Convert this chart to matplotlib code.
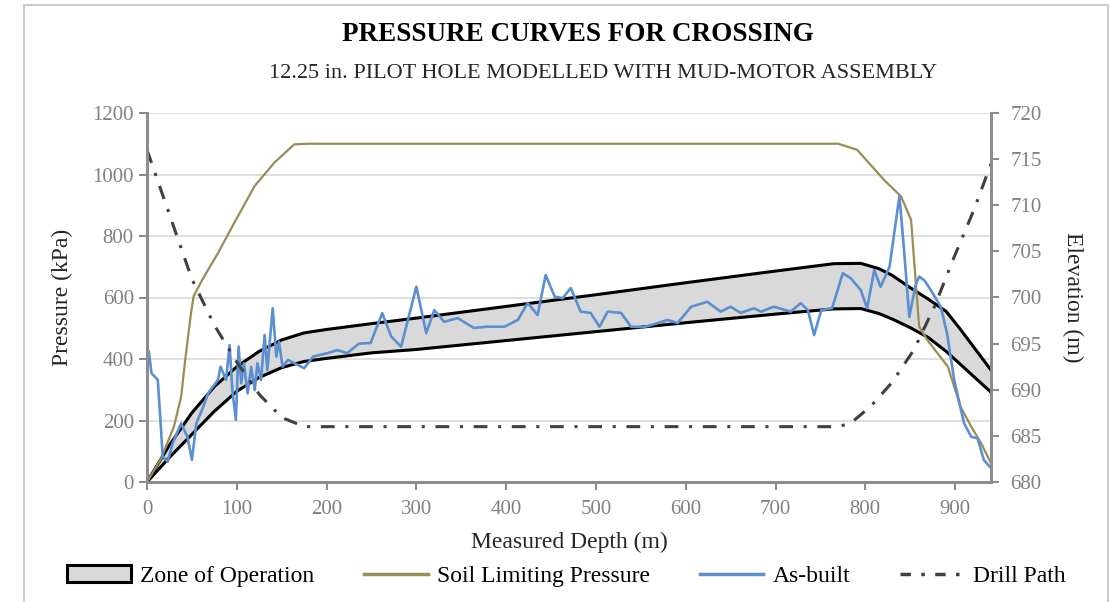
import matplotlib
matplotlib.use("Agg")
import matplotlib.pyplot as plt
from matplotlib.patches import Rectangle
from matplotlib.lines import Line2D

plt.rcParams['font.family'] = ['Liberation Serif', 'DejaVu Serif']

# zone of operation (upper / lower bound), kPa
zone_depth = [0, 25, 50, 75, 100, 125, 150, 175, 200, 250, 300, 400, 500, 600, 700,
              765, 795, 815, 830, 850, 870, 890, 905, 940]
zone_upper = [0, 120, 225, 310, 375, 425, 462, 485, 496, 515, 533, 571, 609, 648, 686,
              710, 711, 694, 672, 632, 595, 555, 500, 364]
zone_lower = [0, 80, 155, 230, 295, 340, 372, 392, 402, 420, 431, 460, 489, 518, 546,
              563, 564, 548, 530, 502, 470, 425, 385, 292]

# soil limiting pressure, kPa
soil_depth = [0, 15, 30, 38, 43, 49, 52, 62, 79, 97, 120, 142, 164, 180, 770, 791, 821,
              840, 851, 856, 860, 869, 892, 906, 918, 929, 940]
soil_p = [0, 72, 180, 277, 408, 549, 605, 660, 744, 842, 963, 1039, 1098, 1100, 1100,
          1080, 982, 928, 852, 657, 505, 462, 375, 245, 180, 126, 61]

# as-built annular pressure, kPa
built_depth = [0, 2, 5, 12, 14, 17.5, 23, 28.6, 38, 45, 50, 55, 62, 68, 79, 82, 88, 92,
               95, 99, 102, 105, 108, 112, 116, 120, 123, 127, 131, 134, 140, 144, 147,
               151, 157, 165, 175, 185, 201, 212, 223, 236, 249, 262, 272, 283, 300, 311,
               320, 331, 346, 364, 379, 398, 413, 424, 435, 444, 454, 463, 472, 483, 494,
               504, 513, 528, 539, 554, 569, 580, 591, 606, 624, 639, 650, 661, 676, 684,
               698, 717, 728, 736, 743, 751, 763, 775, 784, 795, 802, 810, 817, 827, 838,
               843, 849, 856, 860, 866, 873, 884, 891, 899, 910, 918, 925, 932, 940]
built_p = [429, 425, 354, 332, 245, 82, 66, 126, 191, 147, 72, 191, 240, 288, 332, 375,
           332, 445, 299, 202, 440, 321, 386, 288, 375, 299, 386, 332, 478, 364, 565, 408,
           456, 375, 397, 385, 370, 408, 419, 429, 419, 450, 452, 549, 473, 440, 635, 484,
           559, 521, 533, 501, 505, 505, 527, 582, 543, 673, 603, 598, 631, 554, 550, 505,
           554, 550, 505, 504, 517, 527, 517, 570, 586, 554, 570, 550, 565, 554, 570, 554,
           582, 559, 478, 559, 565, 679, 662, 624, 565, 689, 635, 700, 930, 760, 537, 640,
           668, 655, 624, 570, 484, 332, 191, 147, 142, 72, 45]

# drill path elevation, m
drill_depth = [0, 25, 50, 75, 100, 125, 150, 175, 770, 784, 806, 829, 854, 877, 899, 921, 940]
drill_elev = [716, 709, 702, 697, 693, 689.5, 687, 686, 686, 686.4, 688.2, 690.7, 694.3,
              699, 704.4, 709.5, 714.5]

depth_ticks = [0, 100, 200, 300, 400, 500, 600, 700, 800, 900]
pressure_ticks = [0, 200, 400, 600, 800, 1000, 1200]
elev_ticks = [680, 685, 690, 695, 700, 705, 710, 715, 720]

blue = '#5b8fd0'
olive = '#9a8c55'
spine_gray = '#8c8c8c'
tick_gray = '#808080'

fig = plt.figure(figsize=(11.15, 6.02), dpi=100)
ax = fig.add_axes([147 / 1115, 1 - 482 / 602, (991 - 147) / 1115, (482 - 113) / 602])
ax2 = ax.twinx()

ax.fill_between(zone_depth, zone_lower, zone_upper, color='#d9d9d9', zorder=2)
ax.plot(zone_depth, zone_upper, color='black', lw=2.2, zorder=3)
ax.plot(zone_depth, zone_lower, color='black', lw=2.2, zorder=3)
ax.plot(soil_depth, soil_p, color=olive, lw=1.6, zorder=4)
ax.plot(built_depth, built_p, color=blue, lw=1.9, zorder=5)
ax2.plot(drill_depth, drill_elev, color='#404040', lw=2.2, dashes=(4.5, 3.5, 1, 3.5))

ax.set_xlim(0, 940)
ax.set_ylim(0, 1200)
ax2.set_ylim(680, 720)
ax.set_xticks(depth_ticks)
ax.set_yticks(pressure_ticks)
ax2.set_yticks(elev_ticks)
ax.yaxis.grid(True, color='#d9d9d9', lw=1.2, zorder=0)
ax.set_axisbelow(True)

for a in (ax, ax2):
    a.spines['top'].set_visible(False)
    for s in ('left', 'right', 'bottom'):
        a.spines[s].set_color(spine_gray)
        a.spines[s].set_linewidth(2)
    a.tick_params(colors=spine_gray, labelcolor=tick_gray, labelsize=15, width=1.5,
                  length=6)
ax.tick_params(axis='x', pad=7)
ax2.tick_params(axis='y', pad=8)

ax.set_xlabel('Measured Depth (m)', fontsize=17, color='#262626', labelpad=9)
ax.set_ylabel('Pressure (kPa)', fontsize=17, color='#262626', labelpad=14)
ax2.set_ylabel('Elevation (m)', fontsize=17, color='#262626', rotation=270, labelpad=30)

fig.text(0.518, 0.943, 'PRESSURE CURVES FOR CROSSING', ha='center', va='center',
         fontsize=19.5, fontweight='bold')
fig.text(0.541, 0.878, '12.25 in. PILOT HOLE MODELLED WITH MUD-MOTOR ASSEMBLY',
         ha='center', va='center', fontsize=16, color='#262626')

handles = [
    Rectangle((0, 0), 1, 1, facecolor='#d9d9d9', edgecolor='black', lw=2.2),
    Line2D([], [], color=olive, lw=2.5),
    Line2D([], [], color=blue, lw=2.5),
    Line2D([], [], color='#404040', lw=2.5, dashes=(3, 3, 1, 3)),
]
labels = ['Zone of Operation', 'Soil Limiting Pressure', 'As-built', 'Drill Path']
fig.legend(handles, labels, loc='center', bbox_to_anchor=(0.508, 0.043), ncol=4,
           frameon=False, fontsize=17, handlelength=2.7, handletextpad=0.4,
           columnspacing=2.1)

# light frame around the chart area
fig.patches.append(Rectangle((24 / 1115, -0.1), (1108 - 24) / 1115, 1.0917,
                             transform=fig.transFigure, fill=False,
                             edgecolor='#cccccc', lw=1.5))

fig.savefig('out.png', dpi=100)
